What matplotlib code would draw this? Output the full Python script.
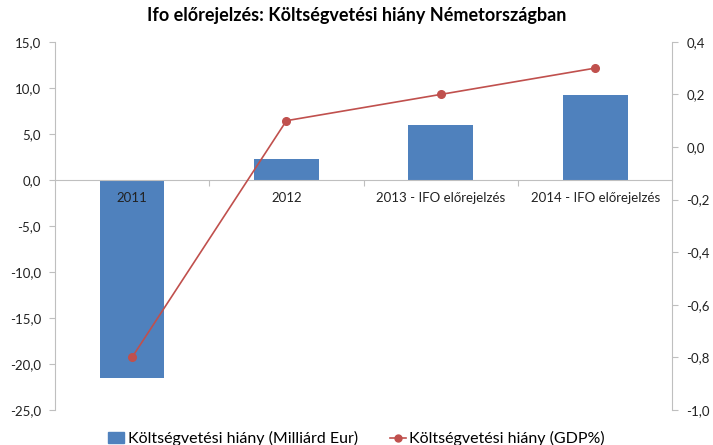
import matplotlib.pyplot as plt
from matplotlib.ticker import FixedLocator, FuncFormatter
from matplotlib.lines import Line2D
from matplotlib.patches import Patch

plt.rcParams['font.family'] = ['Lato', 'DejaVu Sans']

categories = ['2011', '2012', '2013 - IFO előrejelzés', '2014 - IFO előrejelzés']
deficit_bn = [-21.5, 2.3, 6.0, 9.2]
deficit_gdp = [-0.8, 0.1, 0.2, 0.3]

bar_color = '#4F81BD'
line_color = '#C0504D'
grey = '#BFBFBF'

fig = plt.figure(figsize=(7.13, 4.45), dpi=100)
ax = fig.add_axes([0.077, 0.079, 0.866, 0.827])
ax2 = ax.twinx()

x = list(range(len(categories)))
ax.bar(x, deficit_bn, width=0.42, color=bar_color, zorder=1)
ax2.plot(x, deficit_gdp, color=line_color, lw=1.2, marker='o', ms=5.5)

ax.set_xlim(-0.5, len(categories) - 0.5)
ax.set_ylim(-25, 15)
ax.set_yticks(range(-25, 16, 5))
ax2.set_ylim(-1.0, 0.4)
ax2.set_yticks([-1.0, -0.8, -0.6, -0.4, -0.2, 0.0, 0.2, 0.4])

fmt = FuncFormatter(lambda v, p: f'{v:.1f}'.replace('.', ','))
ax.yaxis.set_major_formatter(fmt)
ax2.yaxis.set_major_formatter(fmt)

# x axis sits at zero, labels just below it
ax.spines['bottom'].set_position(('data', 0))
ax.xaxis.set_major_locator(FixedLocator([0.5, 1.5, 2.5]))
ax.xaxis.set_minor_locator(FixedLocator(x))
ax.set_xticklabels([])
ax.set_xticklabels(categories, minor=True)
ax.tick_params(axis='x', which='major', length=4, color=grey, direction='out')
ax.tick_params(axis='x', which='minor', length=0, pad=9, labelsize=9.5, labelcolor='#222222')

for a in (ax, ax2):
    a.spines['top'].set_visible(False)
    for s in ('left', 'right', 'bottom'):
        a.spines[s].set_color(grey)
    a.tick_params(axis='y', length=4, color=grey, labelsize=9.5, labelcolor='#222222', pad=6)
ax2.spines['bottom'].set_visible(False)
ax.spines['right'].set_visible(False)
ax2.spines['left'].set_visible(False)

fig.suptitle('Ifo előrejelzés: Költségvetési hiány Németországban',
             fontsize=13, fontweight='bold', y=0.985)

handles = [Patch(color=bar_color),
           Line2D([0], [0], color=line_color, lw=1.2, marker='o', ms=5)]
fig.legend(handles, ['Költségvetési hiány (Milliárd Eur)', 'Költségvetési hiány (GDP%)'],
           loc='lower center', bbox_to_anchor=(0.5, -0.035), ncol=2, frameon=False,
           fontsize=11.5, handlelength=1.0, handletextpad=0.2, columnspacing=2.0)

fig.savefig('out.png', dpi=100)
